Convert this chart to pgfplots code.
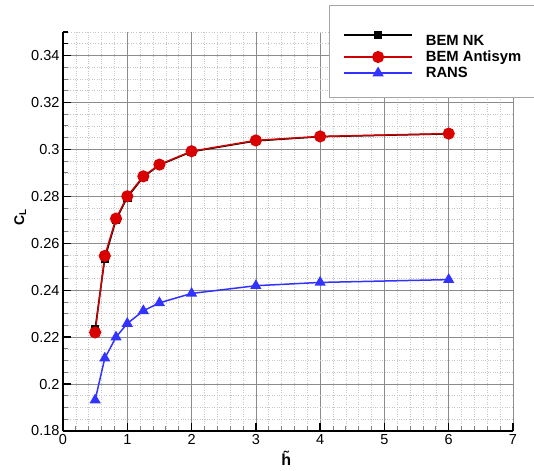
\documentclass[border=0pt]{standalone}
\usepackage{fontspec}
\setmainfont{Liberation Sans}
\usepackage{pgfplots}
\pgfplotsset{compat=1.18}
\definecolor{bemred}{RGB}{204,0,0}
\definecolor{ransblue}{RGB}{51,51,255}

\begin{document}
\begin{tikzpicture}
\begin{axis}[
  scale only axis, width=450pt, height=399pt,
  xmin=0, xmax=7, ymin=0.18, ymax=0.35,
  axis lines=left, axis line style={-, line width=1.5pt, black},
  xtick={0,1,2,3,4,5,6,7},
  ytick={0.18,0.20,0.22,0.24,0.26,0.28,0.30,0.32,0.34},
  extra y ticks={0.345,0.35}, extra y tick labels={},
  extra y tick style={major grid style={gray!45, dotted, line width=0.6pt}, major tick length=5pt, tick style={gray, line width=0.8pt}},
  minor x tick num=4, minor y tick num=3,
  tick align=inside, major tick length=8pt, minor tick length=5pt,
  major tick style={black, line width=1.3pt},
  minor tick style={gray, line width=0.8pt},
  grid=both,
  major grid style={black!45, line width=0.7pt},
  minor grid style={gray!45, dotted, line width=0.6pt},
  tick label style={font=\fontsize{14.5}{16}\selectfont},
  /pgf/number format/assume math mode=true,
  yticklabel style={/pgf/number format/fixed, /pgf/number format/precision=3},
  xlabel={\fontsize{16}{18}\selectfont\bfseries\~{h}},
  ylabel={\fontsize{14}{15}\selectfont\bfseries C\textsubscript{L}},
  xlabel style={at={(axis description cs:0.496,-0.068)}, anchor=center},
  ylabel style={at={(axis description cs:-0.095,0.535)}, anchor=center},
  legend cell align=left,
  legend style={at={(axis description cs:0.591,1.0677)}, anchor=north west,
    draw=gray!70, line width=0.8pt, inner xsep=14pt, inner ysep=16pt,
    font=\fontsize{14.8}{17.5}\selectfont\bfseries, row sep=0pt,
    /tikz/every odd column/.append style={column sep=11pt}},
  legend image code/.code={\draw[mark repeat=2,mark phase=2,#1] plot coordinates {(0pt,0pt)(34pt,0pt)(68pt,0pt)};},
]
\addplot[black, line width=1.5pt, mark=square*, mark size=3.5pt] coordinates {
(0.5,0.2235) (0.65,0.2535) (0.825,0.2700) (1,0.2795) (1.25,0.2882) (1.5,0.2933) (2,0.2990) (3,0.3036) (4,0.3054) (6,0.3066)};
\addlegendentry{\rule{0pt}{22pt}BEM NK}
\addplot[bemred, line width=1.5pt, mark=*, mark size=5.3pt, mark options={fill=red!85!black, draw=red!85!black}] coordinates {
(0.5,0.2220) (0.65,0.2546) (0.825,0.2705) (1,0.2800) (1.25,0.2885) (1.5,0.2935) (2,0.2992) (3,0.3038) (4,0.3055) (6,0.3067)};
\addlegendentry{BEM Antisym}
\addplot[ransblue, line width=1.5pt, mark=triangle*, mark size=5pt] coordinates {
(0.5,0.1932) (0.65,0.2110) (0.825,0.2200) (1,0.2258) (1.25,0.2312) (1.5,0.2346) (2,0.2386) (3,0.2419) (4,0.2433) (6,0.2445)};
\addlegendentry{RANS}
\coordinate (SW) at (rel axis cs:0,0);
\end{axis}
\pgfresetboundingbox
\path[use as bounding box] ([shift={(-63pt,-39pt)}]SW) rectangle ([shift={(471pt,431pt)}]SW);
\end{tikzpicture}
\end{document}
